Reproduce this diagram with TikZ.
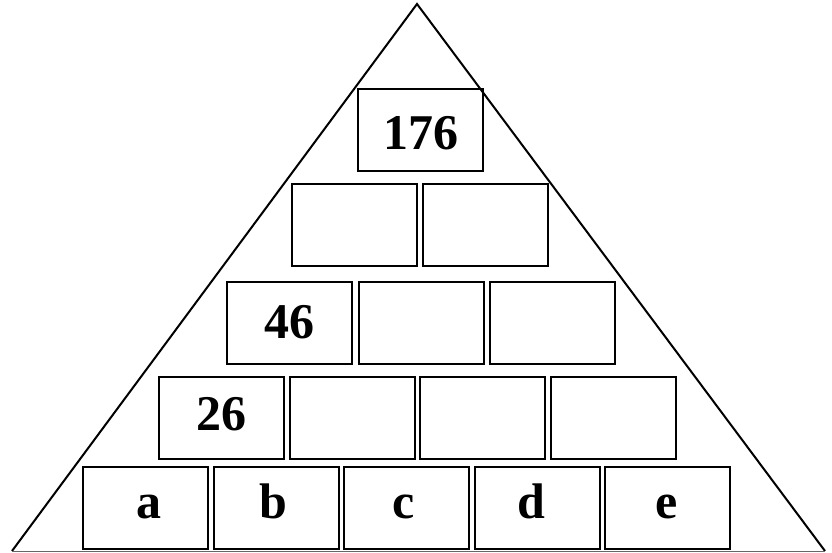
\documentclass[tikz,border=0pt]{standalone}
\usepackage{fontspec}
\setmainfont{Liberation Serif}
\begin{document}
\begin{tikzpicture}[x=1pt,y=-1pt,
  brick/.style={draw,line width=2pt,rectangle,minimum width=125pt,minimum height=82pt,inner sep=0pt},
  lbl/.style={anchor=base,inner sep=0pt,font=\fontsize{50}{60}\selectfont\bfseries},
  edge/.style={line width=2pt,line join=miter}]
\useasboundingbox (0,0) rectangle (832,553);
\coordinate (apex) at (417,4);
\coordinate (bl) at (12,551);
\coordinate (br) at (825,551);
\draw[edge] (bl) -- (apex) -- (br);
\draw[line width=1pt,black!60] (bl) -- (br);
% row 1
\node[brick] (r1a) at (420.5,130) {};
% row 2
\node[brick] (r2a) at (354,225) {};
\node[brick] (r2b) at (485,225) {};
% row 3
\node[brick] (r3a) at (289,323) {};
\node[brick] (r3b) at (421.5,323) {};
\node[brick] (r3c) at (552.5,323) {};
% row 4
\node[brick] (r4a) at (221,417.5) {};
\node[brick] (r4b) at (352,417.5) {};
\node[brick] (r4c) at (482,417.5) {};
\node[brick] (r4d) at (613,417.5) {};
% row 5
\node[brick] (r5a) at (145.5,507.5) {};
\node[brick] (r5b) at (276,507.5) {};
\node[brick] (r5c) at (406.5,507.5) {};
\node[brick] (r5d) at (537.5,507.5) {};
\node[brick] (r5e) at (667.5,507.5) {};
% labels
\node[lbl] (t176) at (421,150) {176};
\node[lbl] (t46) at (289,338) {46};
\node[lbl] (t26) at (221,430) {26};
\node[lbl] (ta) at (149,518) {a};
\node[lbl] (tb) at (273.5,518) {b};
\node[lbl] (tc) at (404,518) {c};
\node[lbl] (td) at (531,518) {d};
\node[lbl] (te) at (667,518) {e};
\end{tikzpicture}
\end{document}
